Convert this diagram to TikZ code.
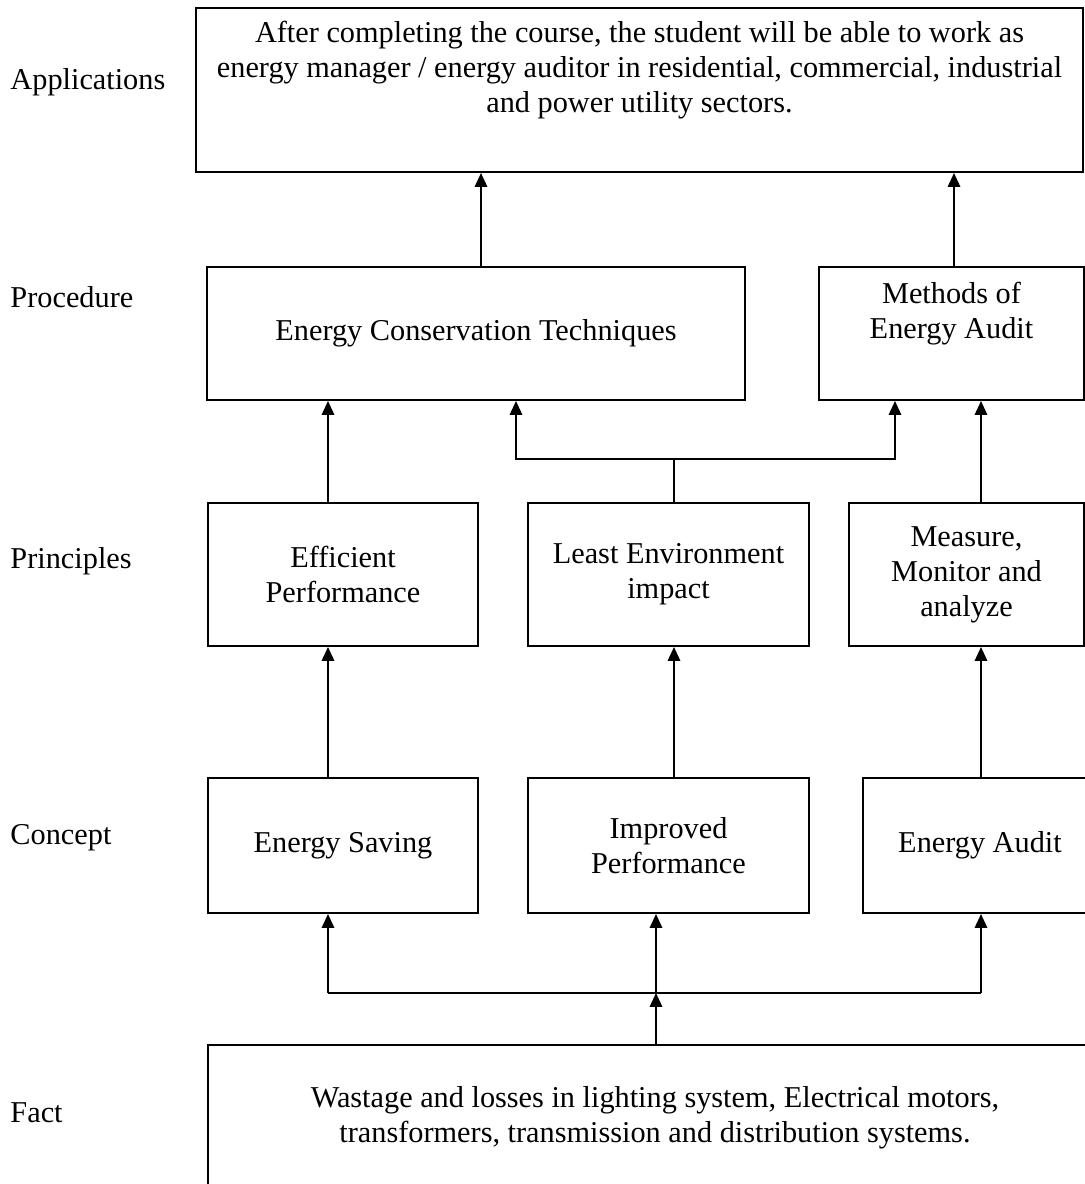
\documentclass[tikz,border=0pt]{standalone}
\usepackage{fontspec}
\setmainfont{Liberation Serif}
\usetikzlibrary{arrows.meta}

\def\px{0.406pt}

\tikzset{
  box/.style 2 args={draw, line width=0.8pt, align=center, inner sep=2pt,
    minimum width=#1*\px, minimum height=#2*\px},
  level/.style={anchor=west, inner sep=0pt},
  wire/.style={line width=0.8pt},
  arr/.style={wire, -{Triangle[length=5.6pt,width=5pt]}}
}

\begin{document}
\begin{tikzpicture}[x=\px, y=-\px, font=\fontsize{12.3pt}{14.2pt}\selectfont]
\useasboundingbox (0,0) rectangle (1085,1184);

% level names
\node[level] (lapp) at (10,82) {Applications};
\node[level] (lpro) at (10,297) {Procedure};
\node[level] (lpri) at (10,561) {Principles};
\node[level] (lcon) at (10,838) {Concept};
\node[level] (lfac) at (10,1113) {Fact};

% boxes
\node[box={887}{164}] (app) at (639.5,90)
  {After completing the course, the student will be able to work as\\
   energy manager / energy auditor in residential, commercial, industrial\\
   and power utility sectors.\\ \strut};
\node[box={538}{133}] (ect) at (476,333.5) {Energy Conservation Techniques};
\node[box={265}{133}] (moe) at (951.5,333.5) {Methods of\\Energy Audit\\ \strut};
\node[box={270}{143}] (eff) at (343,574.5) {Efficient\\Performance};
\node[box={281}{143}] (lei) at (668.5,574.5) {Least Environment\\impact};
\node[box={235}{143}] (mma) at (966.5,574.5) {Measure,\\Monitor and\\analyze};
\node[box={270}{135}] (sav) at (343,845.5) {Energy Saving};
\node[box={281}{135}] (imp) at (668.5,845.5) {Improved\\Performance};
\node[box={234}{135}] (aud) at (980,845.5) {Energy Audit};
\node[box={894}{145}] (fact) at (655,1117.5)
  {Wastage and losses in lighting system, Electrical motors,\\
   transformers, transmission and distribution systems.};

% columns and buses for the connectors
\coordinate (xa) at (328,0);
\coordinate (xb) at (656,0);
\coordinate (xc) at (674,0);
\coordinate (xd) at (981,0);
\coordinate (xe) at (516,0);
\coordinate (xf) at (895,0);
\coordinate (xg) at (481,0);
\coordinate (xh) at (954,0);
\coordinate (busa) at (0,993);
\coordinate (busb) at (0,459);

% fact -> concept
\draw[arr] (fact.north -| xb) -- (busa -| xb);
\draw[wire] (busa -| xa) -- (busa -| xd);
\draw[arr] (busa -| xa) -- (sav.south -| xa);
\draw[arr] (busa -| xb) -- (imp.south -| xb);
\draw[arr] (busa -| xd) -- (aud.south -| xd);

% concept -> principles
\draw[arr] (sav.north -| xa) -- (eff.south -| xa);
\draw[arr] (imp.north -| xc) -- (lei.south -| xc);
\draw[arr] (aud.north -| xd) -- (mma.south -| xd);

% principles -> procedure
\draw[arr] (eff.north -| xa) -- (ect.south -| xa);
\draw[arr] (lei.north -| xc) |- (busb -| xe) -- (ect.south -| xe);
\draw[arr] (busb -| xc) -| (moe.south -| xf);
\draw[arr] (mma.north -| xd) -- (moe.south -| xd);

% procedure -> applications
\draw[arr] (ect.north -| xg) -- (app.south -| xg);
\draw[arr] (moe.north -| xh) -- (app.south -| xh);
\end{tikzpicture}
\end{document}
